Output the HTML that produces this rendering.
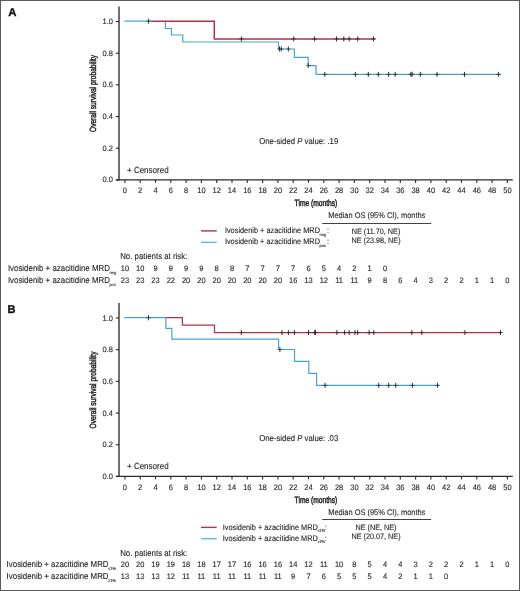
<!DOCTYPE html>
<html><head><meta charset="utf-8"><title>Kaplan-Meier overall survival</title>
<style>
html,body{margin:0;padding:0;background:#fff;}
svg{display:block;will-change:transform;font-family:"Liberation Sans", sans-serif;}
text{stroke:#1e1e1e;stroke-width:0.1px;text-rendering:geometricPrecision;}
</style></head>
<body>
<svg width="520" height="591" viewBox="0 0 520 591">
<rect x="0" y="0" width="520" height="591" fill="#fff"/>
<rect x="0.5" y="0.5" width="519" height="590" fill="none" stroke="#5a5a5a" stroke-width="1"/>
<text transform="translate(8.20 16.00)" font-size="11.4" font-weight="bold" style="stroke:#111;stroke-width:0.35px" fill="#111">A</text>
<line x1="119" y1="6.40" x2="119" y2="180.60" stroke="#2b2b2b" stroke-width="1.35"/>
<line x1="115.9" y1="179.90" x2="512.8" y2="179.90" stroke="#2b2b2b" stroke-width="1.35"/>
<line x1="124.90" y1="179.90" x2="124.90" y2="182.90" stroke="#2b2b2b" stroke-width="1.1"/>
<text transform="translate(124.90 193.30) scale(1 1.05)" font-size="7.5" text-anchor="middle" fill="#1e1e1e">0</text>
<line x1="140.20" y1="179.90" x2="140.20" y2="182.90" stroke="#2b2b2b" stroke-width="1.1"/>
<text transform="translate(140.20 193.30) scale(1 1.05)" font-size="7.5" text-anchor="middle" fill="#1e1e1e">2</text>
<line x1="155.50" y1="179.90" x2="155.50" y2="182.90" stroke="#2b2b2b" stroke-width="1.1"/>
<text transform="translate(155.50 193.30) scale(1 1.05)" font-size="7.5" text-anchor="middle" fill="#1e1e1e">4</text>
<line x1="170.80" y1="179.90" x2="170.80" y2="182.90" stroke="#2b2b2b" stroke-width="1.1"/>
<text transform="translate(170.80 193.30) scale(1 1.05)" font-size="7.5" text-anchor="middle" fill="#1e1e1e">6</text>
<line x1="186.10" y1="179.90" x2="186.10" y2="182.90" stroke="#2b2b2b" stroke-width="1.1"/>
<text transform="translate(186.10 193.30) scale(1 1.05)" font-size="7.5" text-anchor="middle" fill="#1e1e1e">8</text>
<line x1="201.40" y1="179.90" x2="201.40" y2="182.90" stroke="#2b2b2b" stroke-width="1.1"/>
<text transform="translate(201.40 193.30) scale(1 1.05)" font-size="7.5" text-anchor="middle" fill="#1e1e1e">10</text>
<line x1="216.70" y1="179.90" x2="216.70" y2="182.90" stroke="#2b2b2b" stroke-width="1.1"/>
<text transform="translate(216.70 193.30) scale(1 1.05)" font-size="7.5" text-anchor="middle" fill="#1e1e1e">12</text>
<line x1="232.00" y1="179.90" x2="232.00" y2="182.90" stroke="#2b2b2b" stroke-width="1.1"/>
<text transform="translate(232.00 193.30) scale(1 1.05)" font-size="7.5" text-anchor="middle" fill="#1e1e1e">14</text>
<line x1="247.30" y1="179.90" x2="247.30" y2="182.90" stroke="#2b2b2b" stroke-width="1.1"/>
<text transform="translate(247.30 193.30) scale(1 1.05)" font-size="7.5" text-anchor="middle" fill="#1e1e1e">16</text>
<line x1="262.60" y1="179.90" x2="262.60" y2="182.90" stroke="#2b2b2b" stroke-width="1.1"/>
<text transform="translate(262.60 193.30) scale(1 1.05)" font-size="7.5" text-anchor="middle" fill="#1e1e1e">18</text>
<line x1="277.90" y1="179.90" x2="277.90" y2="182.90" stroke="#2b2b2b" stroke-width="1.1"/>
<text transform="translate(277.90 193.30) scale(1 1.05)" font-size="7.5" text-anchor="middle" fill="#1e1e1e">20</text>
<line x1="293.20" y1="179.90" x2="293.20" y2="182.90" stroke="#2b2b2b" stroke-width="1.1"/>
<text transform="translate(293.20 193.30) scale(1 1.05)" font-size="7.5" text-anchor="middle" fill="#1e1e1e">22</text>
<line x1="308.50" y1="179.90" x2="308.50" y2="182.90" stroke="#2b2b2b" stroke-width="1.1"/>
<text transform="translate(308.50 193.30) scale(1 1.05)" font-size="7.5" text-anchor="middle" fill="#1e1e1e">24</text>
<line x1="323.80" y1="179.90" x2="323.80" y2="182.90" stroke="#2b2b2b" stroke-width="1.1"/>
<text transform="translate(323.80 193.30) scale(1 1.05)" font-size="7.5" text-anchor="middle" fill="#1e1e1e">26</text>
<line x1="339.10" y1="179.90" x2="339.10" y2="182.90" stroke="#2b2b2b" stroke-width="1.1"/>
<text transform="translate(339.10 193.30) scale(1 1.05)" font-size="7.5" text-anchor="middle" fill="#1e1e1e">28</text>
<line x1="354.40" y1="179.90" x2="354.40" y2="182.90" stroke="#2b2b2b" stroke-width="1.1"/>
<text transform="translate(354.40 193.30) scale(1 1.05)" font-size="7.5" text-anchor="middle" fill="#1e1e1e">30</text>
<line x1="369.70" y1="179.90" x2="369.70" y2="182.90" stroke="#2b2b2b" stroke-width="1.1"/>
<text transform="translate(369.70 193.30) scale(1 1.05)" font-size="7.5" text-anchor="middle" fill="#1e1e1e">32</text>
<line x1="385.00" y1="179.90" x2="385.00" y2="182.90" stroke="#2b2b2b" stroke-width="1.1"/>
<text transform="translate(385.00 193.30) scale(1 1.05)" font-size="7.5" text-anchor="middle" fill="#1e1e1e">34</text>
<line x1="400.30" y1="179.90" x2="400.30" y2="182.90" stroke="#2b2b2b" stroke-width="1.1"/>
<text transform="translate(400.30 193.30) scale(1 1.05)" font-size="7.5" text-anchor="middle" fill="#1e1e1e">36</text>
<line x1="415.60" y1="179.90" x2="415.60" y2="182.90" stroke="#2b2b2b" stroke-width="1.1"/>
<text transform="translate(415.60 193.30) scale(1 1.05)" font-size="7.5" text-anchor="middle" fill="#1e1e1e">38</text>
<line x1="430.90" y1="179.90" x2="430.90" y2="182.90" stroke="#2b2b2b" stroke-width="1.1"/>
<text transform="translate(430.90 193.30) scale(1 1.05)" font-size="7.5" text-anchor="middle" fill="#1e1e1e">40</text>
<line x1="446.20" y1="179.90" x2="446.20" y2="182.90" stroke="#2b2b2b" stroke-width="1.1"/>
<text transform="translate(446.20 193.30) scale(1 1.05)" font-size="7.5" text-anchor="middle" fill="#1e1e1e">42</text>
<line x1="461.50" y1="179.90" x2="461.50" y2="182.90" stroke="#2b2b2b" stroke-width="1.1"/>
<text transform="translate(461.50 193.30) scale(1 1.05)" font-size="7.5" text-anchor="middle" fill="#1e1e1e">44</text>
<line x1="476.80" y1="179.90" x2="476.80" y2="182.90" stroke="#2b2b2b" stroke-width="1.1"/>
<text transform="translate(476.80 193.30) scale(1 1.05)" font-size="7.5" text-anchor="middle" fill="#1e1e1e">46</text>
<line x1="492.10" y1="179.90" x2="492.10" y2="182.90" stroke="#2b2b2b" stroke-width="1.1"/>
<text transform="translate(492.10 193.30) scale(1 1.05)" font-size="7.5" text-anchor="middle" fill="#1e1e1e">48</text>
<line x1="507.40" y1="179.90" x2="507.40" y2="182.90" stroke="#2b2b2b" stroke-width="1.1"/>
<text transform="translate(507.40 193.30) scale(1 1.05)" font-size="7.5" text-anchor="middle" fill="#1e1e1e">50</text>
<line x1="115.8" y1="179.90" x2="119" y2="179.90" stroke="#2b2b2b" stroke-width="1.1"/>
<text transform="translate(113.00 182.40) scale(1 1.05)" font-size="7.5" text-anchor="end" fill="#1e1e1e">0.0</text>
<line x1="115.8" y1="148.22" x2="119" y2="148.22" stroke="#2b2b2b" stroke-width="1.1"/>
<text transform="translate(113.00 150.72) scale(1 1.05)" font-size="7.5" text-anchor="end" fill="#1e1e1e">0.2</text>
<line x1="115.8" y1="116.54" x2="119" y2="116.54" stroke="#2b2b2b" stroke-width="1.1"/>
<text transform="translate(113.00 119.04) scale(1 1.05)" font-size="7.5" text-anchor="end" fill="#1e1e1e">0.4</text>
<line x1="115.8" y1="84.86" x2="119" y2="84.86" stroke="#2b2b2b" stroke-width="1.1"/>
<text transform="translate(113.00 87.36) scale(1 1.05)" font-size="7.5" text-anchor="end" fill="#1e1e1e">0.6</text>
<line x1="115.8" y1="53.18" x2="119" y2="53.18" stroke="#2b2b2b" stroke-width="1.1"/>
<text transform="translate(113.00 55.68) scale(1 1.05)" font-size="7.5" text-anchor="end" fill="#1e1e1e">0.8</text>
<line x1="115.8" y1="21.50" x2="119" y2="21.50" stroke="#2b2b2b" stroke-width="1.1"/>
<text transform="translate(113.00 24.00) scale(1 1.05)" font-size="7.5" text-anchor="end" fill="#1e1e1e">1.0</text>
<text transform="translate(294.60 206.10)" font-size="9" textLength="42.7" lengthAdjust="spacingAndGlyphs" style="stroke-width:0.45px" fill="#1e1e1e">Time (months)</text>
<text transform="translate(95.6 132.00) rotate(-90)" font-size="9" textLength="77" lengthAdjust="spacingAndGlyphs" style="stroke-width:0.45px" fill="#1e1e1e">Overall survival probability</text>
<text transform="translate(127.00 172.80) scale(1 1.1)" font-size="8.0" fill="#1e1e1e">+ Censored</text>
<text transform="translate(259.20 144.40) scale(1 1.1)" font-size="7.77" fill="#1e1e1e">One-sided <tspan font-style="italic">P</tspan> value: .19</text>
<path d="M124.4 21.2H152M165.4 21.2V28.5H171.5V35.0H182.8V42.0H278.5V49.0H294.4V57.3H308.2V65.6H316.0V74.4H501" fill="none" stroke="#44a5d3" stroke-width="1.2"/>
<path d="M151.5 21.2H214.3V38.9H375.4" fill="none" stroke="#b3314f" stroke-width="1.5"/>
<path d="M146.10 21.20H151.10" stroke="#222" stroke-width="0.95" stroke-opacity="0.6" fill="none"/><path d="M148.60 18.65V23.75" stroke="#222" stroke-width="0.9" fill="none"/>
<path d="M238.90 38.90H243.90" stroke="#222" stroke-width="0.95" stroke-opacity="0.6" fill="none"/><path d="M241.40 36.35V41.45" stroke="#222" stroke-width="0.9" fill="none"/>
<path d="M291.20 38.90H296.20" stroke="#222" stroke-width="0.95" stroke-opacity="0.6" fill="none"/><path d="M293.70 36.35V41.45" stroke="#222" stroke-width="0.9" fill="none"/>
<path d="M312.10 38.90H317.10" stroke="#222" stroke-width="0.95" stroke-opacity="0.6" fill="none"/><path d="M314.60 36.35V41.45" stroke="#222" stroke-width="0.9" fill="none"/>
<path d="M334.00 38.90H339.00" stroke="#222" stroke-width="0.95" stroke-opacity="0.6" fill="none"/><path d="M336.50 36.35V41.45" stroke="#222" stroke-width="0.9" fill="none"/>
<path d="M341.30 38.90H346.30" stroke="#222" stroke-width="0.95" stroke-opacity="0.6" fill="none"/><path d="M343.80 36.35V41.45" stroke="#222" stroke-width="0.9" fill="none"/>
<path d="M346.70 38.90H351.70" stroke="#222" stroke-width="0.95" stroke-opacity="0.6" fill="none"/><path d="M349.20 36.35V41.45" stroke="#222" stroke-width="0.9" fill="none"/>
<path d="M355.20 38.90H360.20" stroke="#222" stroke-width="0.95" stroke-opacity="0.6" fill="none"/><path d="M357.70 36.35V41.45" stroke="#222" stroke-width="0.9" fill="none"/>
<path d="M371.00 38.90H376.00" stroke="#222" stroke-width="0.95" stroke-opacity="0.6" fill="none"/><path d="M373.50 36.35V41.45" stroke="#222" stroke-width="0.9" fill="none"/>
<path d="M277.00 49.00H282.00" stroke="#222" stroke-width="0.95" stroke-opacity="0.6" fill="none"/><path d="M279.50 46.45V51.55" stroke="#222" stroke-width="0.9" fill="none"/>
<path d="M278.80 49.00H283.80" stroke="#222" stroke-width="0.95" stroke-opacity="0.6" fill="none"/><path d="M281.30 46.45V51.55" stroke="#222" stroke-width="0.9" fill="none"/>
<path d="M285.85 49.00H290.85" stroke="#222" stroke-width="0.95" stroke-opacity="0.6" fill="none"/><path d="M288.35 46.45V51.55" stroke="#222" stroke-width="0.9" fill="none"/>
<path d="M305.70 65.60H310.70" stroke="#222" stroke-width="0.95" stroke-opacity="0.6" fill="none"/><path d="M308.20 63.05V68.15" stroke="#222" stroke-width="0.9" fill="none"/>
<path d="M322.25 74.40H327.25" stroke="#222" stroke-width="0.95" stroke-opacity="0.6" fill="none"/><path d="M324.75 71.85V76.95" stroke="#222" stroke-width="0.9" fill="none"/>
<path d="M352.90 74.40H357.90" stroke="#222" stroke-width="0.95" stroke-opacity="0.6" fill="none"/><path d="M355.40 71.85V76.95" stroke="#222" stroke-width="0.9" fill="none"/>
<path d="M365.80 74.40H370.80" stroke="#222" stroke-width="0.95" stroke-opacity="0.6" fill="none"/><path d="M368.30 71.85V76.95" stroke="#222" stroke-width="0.9" fill="none"/>
<path d="M375.80 74.40H380.80" stroke="#222" stroke-width="0.95" stroke-opacity="0.6" fill="none"/><path d="M378.30 71.85V76.95" stroke="#222" stroke-width="0.9" fill="none"/>
<path d="M386.10 74.40H391.10" stroke="#222" stroke-width="0.95" stroke-opacity="0.6" fill="none"/><path d="M388.60 71.85V76.95" stroke="#222" stroke-width="0.9" fill="none"/>
<path d="M392.70 74.40H397.70" stroke="#222" stroke-width="0.95" stroke-opacity="0.6" fill="none"/><path d="M395.20 71.85V76.95" stroke="#222" stroke-width="0.9" fill="none"/>
<path d="M408.40 74.40H413.40" stroke="#222" stroke-width="0.95" stroke-opacity="0.6" fill="none"/><path d="M410.90 71.85V76.95" stroke="#222" stroke-width="0.9" fill="none"/>
<path d="M409.60 74.40H414.60" stroke="#222" stroke-width="0.95" stroke-opacity="0.6" fill="none"/><path d="M412.10 71.85V76.95" stroke="#222" stroke-width="0.9" fill="none"/>
<path d="M417.90 74.40H422.90" stroke="#222" stroke-width="0.95" stroke-opacity="0.6" fill="none"/><path d="M420.40 71.85V76.95" stroke="#222" stroke-width="0.9" fill="none"/>
<path d="M434.50 74.40H439.50" stroke="#222" stroke-width="0.95" stroke-opacity="0.6" fill="none"/><path d="M437.00 71.85V76.95" stroke="#222" stroke-width="0.9" fill="none"/>
<path d="M462.00 74.40H467.00" stroke="#222" stroke-width="0.95" stroke-opacity="0.6" fill="none"/><path d="M464.50 71.85V76.95" stroke="#222" stroke-width="0.9" fill="none"/>
<path d="M495.90 74.40H500.90" stroke="#222" stroke-width="0.95" stroke-opacity="0.6" fill="none"/><path d="M498.40 71.85V76.95" stroke="#222" stroke-width="0.9" fill="none"/>
<line x1="201" y1="230.90" x2="216.7" y2="230.90" stroke="#b3314f" stroke-width="1.4"/>
<line x1="201" y1="242.30" x2="216.7" y2="242.30" stroke="#44a5d3" stroke-width="1.1"/>
<text transform="translate(224.90 233.40) scale(1 1.1)" font-size="7.36" fill="#1e1e1e">Ivosidenib + azacitidine MRD</text>
<text transform="translate(319.60 235.90) scale(1 1.1)" font-size="3.8" fill="#1e1e1e">neg</text>
<text transform="translate(326.90 233.40) scale(1 1.1)" font-size="7.3" fill="#1e1e1e">:</text>
<text transform="translate(224.90 244.40) scale(1 1.1)" font-size="7.36" fill="#1e1e1e">Ivosidenib + azacitidine MRD</text>
<text transform="translate(319.60 246.90) scale(1 1.1)" font-size="3.8" fill="#1e1e1e">pos</text>
<text transform="translate(326.90 244.40) scale(1 1.1)" font-size="7.3" fill="#1e1e1e">:</text>
<text transform="translate(328.20 218.40) scale(1 1.1)" font-size="7.45" fill="#1e1e1e">Median OS (95% CI), months</text>
<line x1="322.3" y1="223.50" x2="431.2" y2="223.50" stroke="#2b2b2b" stroke-width="0.9"/>
<text transform="translate(376.00 233.90) scale(1 1.1)" font-size="7.25" text-anchor="middle" fill="#1e1e1e">NE (11.70, NE)</text>
<text transform="translate(376.00 242.80) scale(1 1.1)" font-size="7.25" text-anchor="middle" fill="#1e1e1e">NE (23.98, NE)</text>
<text transform="translate(120.20 259.40) scale(1 1.1)" font-size="7.85" fill="#1e1e1e">No. patients at risk:</text>
<text transform="translate(7.90 270.90) scale(1 1.1)" font-size="7.9" fill="#1e1e1e">Ivosidenib + azacitidine MRD</text>
<text transform="translate(109.40 273.60) scale(1 1.1)" font-size="3.9" fill="#1e1e1e">neg</text>
<text transform="translate(124.90 270.90) scale(1 1.05)" font-size="7.5" text-anchor="middle" fill="#1e1e1e">10</text>
<text transform="translate(140.20 270.90) scale(1 1.05)" font-size="7.5" text-anchor="middle" fill="#1e1e1e">10</text>
<text transform="translate(155.50 270.90) scale(1 1.05)" font-size="7.5" text-anchor="middle" fill="#1e1e1e">9</text>
<text transform="translate(170.80 270.90) scale(1 1.05)" font-size="7.5" text-anchor="middle" fill="#1e1e1e">9</text>
<text transform="translate(186.10 270.90) scale(1 1.05)" font-size="7.5" text-anchor="middle" fill="#1e1e1e">9</text>
<text transform="translate(201.40 270.90) scale(1 1.05)" font-size="7.5" text-anchor="middle" fill="#1e1e1e">9</text>
<text transform="translate(216.70 270.90) scale(1 1.05)" font-size="7.5" text-anchor="middle" fill="#1e1e1e">8</text>
<text transform="translate(232.00 270.90) scale(1 1.05)" font-size="7.5" text-anchor="middle" fill="#1e1e1e">8</text>
<text transform="translate(247.30 270.90) scale(1 1.05)" font-size="7.5" text-anchor="middle" fill="#1e1e1e">7</text>
<text transform="translate(262.60 270.90) scale(1 1.05)" font-size="7.5" text-anchor="middle" fill="#1e1e1e">7</text>
<text transform="translate(277.90 270.90) scale(1 1.05)" font-size="7.5" text-anchor="middle" fill="#1e1e1e">7</text>
<text transform="translate(293.20 270.90) scale(1 1.05)" font-size="7.5" text-anchor="middle" fill="#1e1e1e">7</text>
<text transform="translate(308.50 270.90) scale(1 1.05)" font-size="7.5" text-anchor="middle" fill="#1e1e1e">6</text>
<text transform="translate(323.80 270.90) scale(1 1.05)" font-size="7.5" text-anchor="middle" fill="#1e1e1e">5</text>
<text transform="translate(339.10 270.90) scale(1 1.05)" font-size="7.5" text-anchor="middle" fill="#1e1e1e">4</text>
<text transform="translate(354.40 270.90) scale(1 1.05)" font-size="7.5" text-anchor="middle" fill="#1e1e1e">2</text>
<text transform="translate(369.70 270.90) scale(1 1.05)" font-size="7.5" text-anchor="middle" fill="#1e1e1e">1</text>
<text transform="translate(385.00 270.90) scale(1 1.05)" font-size="7.5" text-anchor="middle" fill="#1e1e1e">0</text>
<text transform="translate(7.90 282.90) scale(1 1.1)" font-size="7.9" fill="#1e1e1e">Ivosidenib + azacitidine MRD</text>
<text transform="translate(109.40 285.60) scale(1 1.1)" font-size="3.9" fill="#1e1e1e">pos</text>
<text transform="translate(124.90 282.90) scale(1 1.05)" font-size="7.5" text-anchor="middle" fill="#1e1e1e">23</text>
<text transform="translate(140.20 282.90) scale(1 1.05)" font-size="7.5" text-anchor="middle" fill="#1e1e1e">23</text>
<text transform="translate(155.50 282.90) scale(1 1.05)" font-size="7.5" text-anchor="middle" fill="#1e1e1e">23</text>
<text transform="translate(170.80 282.90) scale(1 1.05)" font-size="7.5" text-anchor="middle" fill="#1e1e1e">22</text>
<text transform="translate(186.10 282.90) scale(1 1.05)" font-size="7.5" text-anchor="middle" fill="#1e1e1e">20</text>
<text transform="translate(201.40 282.90) scale(1 1.05)" font-size="7.5" text-anchor="middle" fill="#1e1e1e">20</text>
<text transform="translate(216.70 282.90) scale(1 1.05)" font-size="7.5" text-anchor="middle" fill="#1e1e1e">20</text>
<text transform="translate(232.00 282.90) scale(1 1.05)" font-size="7.5" text-anchor="middle" fill="#1e1e1e">20</text>
<text transform="translate(247.30 282.90) scale(1 1.05)" font-size="7.5" text-anchor="middle" fill="#1e1e1e">20</text>
<text transform="translate(262.60 282.90) scale(1 1.05)" font-size="7.5" text-anchor="middle" fill="#1e1e1e">20</text>
<text transform="translate(277.90 282.90) scale(1 1.05)" font-size="7.5" text-anchor="middle" fill="#1e1e1e">20</text>
<text transform="translate(293.20 282.90) scale(1 1.05)" font-size="7.5" text-anchor="middle" fill="#1e1e1e">16</text>
<text transform="translate(308.50 282.90) scale(1 1.05)" font-size="7.5" text-anchor="middle" fill="#1e1e1e">13</text>
<text transform="translate(323.80 282.90) scale(1 1.05)" font-size="7.5" text-anchor="middle" fill="#1e1e1e">12</text>
<text transform="translate(339.10 282.90) scale(1 1.05)" font-size="7.5" text-anchor="middle" fill="#1e1e1e">11</text>
<text transform="translate(354.40 282.90) scale(1 1.05)" font-size="7.5" text-anchor="middle" fill="#1e1e1e">11</text>
<text transform="translate(369.70 282.90) scale(1 1.05)" font-size="7.5" text-anchor="middle" fill="#1e1e1e">9</text>
<text transform="translate(385.00 282.90) scale(1 1.05)" font-size="7.5" text-anchor="middle" fill="#1e1e1e">8</text>
<text transform="translate(400.30 282.90) scale(1 1.05)" font-size="7.5" text-anchor="middle" fill="#1e1e1e">6</text>
<text transform="translate(415.60 282.90) scale(1 1.05)" font-size="7.5" text-anchor="middle" fill="#1e1e1e">4</text>
<text transform="translate(430.90 282.90) scale(1 1.05)" font-size="7.5" text-anchor="middle" fill="#1e1e1e">3</text>
<text transform="translate(446.20 282.90) scale(1 1.05)" font-size="7.5" text-anchor="middle" fill="#1e1e1e">2</text>
<text transform="translate(461.50 282.90) scale(1 1.05)" font-size="7.5" text-anchor="middle" fill="#1e1e1e">2</text>
<text transform="translate(476.80 282.90) scale(1 1.05)" font-size="7.5" text-anchor="middle" fill="#1e1e1e">1</text>
<text transform="translate(492.10 282.90) scale(1 1.05)" font-size="7.5" text-anchor="middle" fill="#1e1e1e">1</text>
<text transform="translate(507.40 282.90) scale(1 1.05)" font-size="7.5" text-anchor="middle" fill="#1e1e1e">0</text>
<text transform="translate(7.50 313.25) scale(1 1.03)" font-size="11.0" font-weight="bold" style="stroke:#111;stroke-width:0.35px" fill="#111">B</text>
<line x1="119" y1="302.90" x2="119" y2="477.10" stroke="#2b2b2b" stroke-width="1.35"/>
<line x1="115.9" y1="476.40" x2="512.8" y2="476.40" stroke="#2b2b2b" stroke-width="1.35"/>
<line x1="124.90" y1="476.40" x2="124.90" y2="479.40" stroke="#2b2b2b" stroke-width="1.1"/>
<text transform="translate(124.90 489.80) scale(1 1.05)" font-size="7.5" text-anchor="middle" fill="#1e1e1e">0</text>
<line x1="140.20" y1="476.40" x2="140.20" y2="479.40" stroke="#2b2b2b" stroke-width="1.1"/>
<text transform="translate(140.20 489.80) scale(1 1.05)" font-size="7.5" text-anchor="middle" fill="#1e1e1e">2</text>
<line x1="155.50" y1="476.40" x2="155.50" y2="479.40" stroke="#2b2b2b" stroke-width="1.1"/>
<text transform="translate(155.50 489.80) scale(1 1.05)" font-size="7.5" text-anchor="middle" fill="#1e1e1e">4</text>
<line x1="170.80" y1="476.40" x2="170.80" y2="479.40" stroke="#2b2b2b" stroke-width="1.1"/>
<text transform="translate(170.80 489.80) scale(1 1.05)" font-size="7.5" text-anchor="middle" fill="#1e1e1e">6</text>
<line x1="186.10" y1="476.40" x2="186.10" y2="479.40" stroke="#2b2b2b" stroke-width="1.1"/>
<text transform="translate(186.10 489.80) scale(1 1.05)" font-size="7.5" text-anchor="middle" fill="#1e1e1e">8</text>
<line x1="201.40" y1="476.40" x2="201.40" y2="479.40" stroke="#2b2b2b" stroke-width="1.1"/>
<text transform="translate(201.40 489.80) scale(1 1.05)" font-size="7.5" text-anchor="middle" fill="#1e1e1e">10</text>
<line x1="216.70" y1="476.40" x2="216.70" y2="479.40" stroke="#2b2b2b" stroke-width="1.1"/>
<text transform="translate(216.70 489.80) scale(1 1.05)" font-size="7.5" text-anchor="middle" fill="#1e1e1e">12</text>
<line x1="232.00" y1="476.40" x2="232.00" y2="479.40" stroke="#2b2b2b" stroke-width="1.1"/>
<text transform="translate(232.00 489.80) scale(1 1.05)" font-size="7.5" text-anchor="middle" fill="#1e1e1e">14</text>
<line x1="247.30" y1="476.40" x2="247.30" y2="479.40" stroke="#2b2b2b" stroke-width="1.1"/>
<text transform="translate(247.30 489.80) scale(1 1.05)" font-size="7.5" text-anchor="middle" fill="#1e1e1e">16</text>
<line x1="262.60" y1="476.40" x2="262.60" y2="479.40" stroke="#2b2b2b" stroke-width="1.1"/>
<text transform="translate(262.60 489.80) scale(1 1.05)" font-size="7.5" text-anchor="middle" fill="#1e1e1e">18</text>
<line x1="277.90" y1="476.40" x2="277.90" y2="479.40" stroke="#2b2b2b" stroke-width="1.1"/>
<text transform="translate(277.90 489.80) scale(1 1.05)" font-size="7.5" text-anchor="middle" fill="#1e1e1e">20</text>
<line x1="293.20" y1="476.40" x2="293.20" y2="479.40" stroke="#2b2b2b" stroke-width="1.1"/>
<text transform="translate(293.20 489.80) scale(1 1.05)" font-size="7.5" text-anchor="middle" fill="#1e1e1e">22</text>
<line x1="308.50" y1="476.40" x2="308.50" y2="479.40" stroke="#2b2b2b" stroke-width="1.1"/>
<text transform="translate(308.50 489.80) scale(1 1.05)" font-size="7.5" text-anchor="middle" fill="#1e1e1e">24</text>
<line x1="323.80" y1="476.40" x2="323.80" y2="479.40" stroke="#2b2b2b" stroke-width="1.1"/>
<text transform="translate(323.80 489.80) scale(1 1.05)" font-size="7.5" text-anchor="middle" fill="#1e1e1e">26</text>
<line x1="339.10" y1="476.40" x2="339.10" y2="479.40" stroke="#2b2b2b" stroke-width="1.1"/>
<text transform="translate(339.10 489.80) scale(1 1.05)" font-size="7.5" text-anchor="middle" fill="#1e1e1e">28</text>
<line x1="354.40" y1="476.40" x2="354.40" y2="479.40" stroke="#2b2b2b" stroke-width="1.1"/>
<text transform="translate(354.40 489.80) scale(1 1.05)" font-size="7.5" text-anchor="middle" fill="#1e1e1e">30</text>
<line x1="369.70" y1="476.40" x2="369.70" y2="479.40" stroke="#2b2b2b" stroke-width="1.1"/>
<text transform="translate(369.70 489.80) scale(1 1.05)" font-size="7.5" text-anchor="middle" fill="#1e1e1e">32</text>
<line x1="385.00" y1="476.40" x2="385.00" y2="479.40" stroke="#2b2b2b" stroke-width="1.1"/>
<text transform="translate(385.00 489.80) scale(1 1.05)" font-size="7.5" text-anchor="middle" fill="#1e1e1e">34</text>
<line x1="400.30" y1="476.40" x2="400.30" y2="479.40" stroke="#2b2b2b" stroke-width="1.1"/>
<text transform="translate(400.30 489.80) scale(1 1.05)" font-size="7.5" text-anchor="middle" fill="#1e1e1e">36</text>
<line x1="415.60" y1="476.40" x2="415.60" y2="479.40" stroke="#2b2b2b" stroke-width="1.1"/>
<text transform="translate(415.60 489.80) scale(1 1.05)" font-size="7.5" text-anchor="middle" fill="#1e1e1e">38</text>
<line x1="430.90" y1="476.40" x2="430.90" y2="479.40" stroke="#2b2b2b" stroke-width="1.1"/>
<text transform="translate(430.90 489.80) scale(1 1.05)" font-size="7.5" text-anchor="middle" fill="#1e1e1e">40</text>
<line x1="446.20" y1="476.40" x2="446.20" y2="479.40" stroke="#2b2b2b" stroke-width="1.1"/>
<text transform="translate(446.20 489.80) scale(1 1.05)" font-size="7.5" text-anchor="middle" fill="#1e1e1e">42</text>
<line x1="461.50" y1="476.40" x2="461.50" y2="479.40" stroke="#2b2b2b" stroke-width="1.1"/>
<text transform="translate(461.50 489.80) scale(1 1.05)" font-size="7.5" text-anchor="middle" fill="#1e1e1e">44</text>
<line x1="476.80" y1="476.40" x2="476.80" y2="479.40" stroke="#2b2b2b" stroke-width="1.1"/>
<text transform="translate(476.80 489.80) scale(1 1.05)" font-size="7.5" text-anchor="middle" fill="#1e1e1e">46</text>
<line x1="492.10" y1="476.40" x2="492.10" y2="479.40" stroke="#2b2b2b" stroke-width="1.1"/>
<text transform="translate(492.10 489.80) scale(1 1.05)" font-size="7.5" text-anchor="middle" fill="#1e1e1e">48</text>
<line x1="507.40" y1="476.40" x2="507.40" y2="479.40" stroke="#2b2b2b" stroke-width="1.1"/>
<text transform="translate(507.40 489.80) scale(1 1.05)" font-size="7.5" text-anchor="middle" fill="#1e1e1e">50</text>
<line x1="115.8" y1="476.40" x2="119" y2="476.40" stroke="#2b2b2b" stroke-width="1.1"/>
<text transform="translate(113.00 478.90) scale(1 1.05)" font-size="7.5" text-anchor="end" fill="#1e1e1e">0.0</text>
<line x1="115.8" y1="444.72" x2="119" y2="444.72" stroke="#2b2b2b" stroke-width="1.1"/>
<text transform="translate(113.00 447.22) scale(1 1.05)" font-size="7.5" text-anchor="end" fill="#1e1e1e">0.2</text>
<line x1="115.8" y1="413.04" x2="119" y2="413.04" stroke="#2b2b2b" stroke-width="1.1"/>
<text transform="translate(113.00 415.54) scale(1 1.05)" font-size="7.5" text-anchor="end" fill="#1e1e1e">0.4</text>
<line x1="115.8" y1="381.36" x2="119" y2="381.36" stroke="#2b2b2b" stroke-width="1.1"/>
<text transform="translate(113.00 383.86) scale(1 1.05)" font-size="7.5" text-anchor="end" fill="#1e1e1e">0.6</text>
<line x1="115.8" y1="349.68" x2="119" y2="349.68" stroke="#2b2b2b" stroke-width="1.1"/>
<text transform="translate(113.00 352.18) scale(1 1.05)" font-size="7.5" text-anchor="end" fill="#1e1e1e">0.8</text>
<line x1="115.8" y1="318.00" x2="119" y2="318.00" stroke="#2b2b2b" stroke-width="1.1"/>
<text transform="translate(113.00 320.50) scale(1 1.05)" font-size="7.5" text-anchor="end" fill="#1e1e1e">1.0</text>
<text transform="translate(294.60 502.60)" font-size="9" textLength="42.7" lengthAdjust="spacingAndGlyphs" style="stroke-width:0.45px" fill="#1e1e1e">Time (months)</text>
<text transform="translate(95.6 428.50) rotate(-90)" font-size="9" textLength="77" lengthAdjust="spacingAndGlyphs" style="stroke-width:0.45px" fill="#1e1e1e">Overall survival probability</text>
<text transform="translate(127.00 469.30) scale(1 1.1)" font-size="8.0" fill="#1e1e1e">+ Censored</text>
<text transform="translate(259.20 440.90) scale(1 1.1)" font-size="7.77" fill="#1e1e1e">One-sided <tspan font-style="italic">P</tspan> value: .03</text>
<path d="M124.2 317.7H165.9V328.3H171.8V339.1H278.6V349.5H294.5V361.3H308.8V373.4H316.6V385.4H439.4" fill="none" stroke="#44a5d3" stroke-width="1.2"/>
<path d="M165.9 317.7H182.4V325.2H214.5V332.5H501.8" fill="none" stroke="#b3314f" stroke-width="1.25"/>
<path d="M146.00 317.70H151.00" stroke="#222" stroke-width="0.95" stroke-opacity="0.6" fill="none"/><path d="M148.50 315.15V320.25" stroke="#222" stroke-width="0.9" fill="none"/>
<path d="M238.80 332.50H243.80" stroke="#222" stroke-width="0.95" stroke-opacity="0.6" fill="none"/><path d="M241.30 329.95V335.05" stroke="#222" stroke-width="0.9" fill="none"/>
<path d="M279.50 332.50H284.50" stroke="#222" stroke-width="0.95" stroke-opacity="0.6" fill="none"/><path d="M282.00 329.95V335.05" stroke="#222" stroke-width="0.9" fill="none"/>
<path d="M285.90 332.50H290.90" stroke="#222" stroke-width="0.95" stroke-opacity="0.6" fill="none"/><path d="M288.40 329.95V335.05" stroke="#222" stroke-width="0.9" fill="none"/>
<path d="M291.90 332.50H296.90" stroke="#222" stroke-width="0.95" stroke-opacity="0.6" fill="none"/><path d="M294.40 329.95V335.05" stroke="#222" stroke-width="0.9" fill="none"/>
<path d="M306.00 332.50H311.00" stroke="#222" stroke-width="0.95" stroke-opacity="0.6" fill="none"/><path d="M308.50 329.95V335.05" stroke="#222" stroke-width="0.9" fill="none"/>
<path d="M312.20 332.50H317.20" stroke="#222" stroke-width="0.95" stroke-opacity="0.6" fill="none"/><path d="M314.70 329.95V335.05" stroke="#222" stroke-width="0.9" fill="none"/>
<path d="M313.00 332.50H318.00" stroke="#222" stroke-width="0.95" stroke-opacity="0.6" fill="none"/><path d="M315.50 329.95V335.05" stroke="#222" stroke-width="0.9" fill="none"/>
<path d="M334.40 332.50H339.40" stroke="#222" stroke-width="0.95" stroke-opacity="0.6" fill="none"/><path d="M336.90 329.95V335.05" stroke="#222" stroke-width="0.9" fill="none"/>
<path d="M342.10 332.50H347.10" stroke="#222" stroke-width="0.95" stroke-opacity="0.6" fill="none"/><path d="M344.60 329.95V335.05" stroke="#222" stroke-width="0.9" fill="none"/>
<path d="M346.70 332.50H351.70" stroke="#222" stroke-width="0.95" stroke-opacity="0.6" fill="none"/><path d="M349.20 329.95V335.05" stroke="#222" stroke-width="0.9" fill="none"/>
<path d="M352.50 332.50H357.50" stroke="#222" stroke-width="0.95" stroke-opacity="0.6" fill="none"/><path d="M355.00 329.95V335.05" stroke="#222" stroke-width="0.9" fill="none"/>
<path d="M355.20 332.50H360.20" stroke="#222" stroke-width="0.95" stroke-opacity="0.6" fill="none"/><path d="M357.70 329.95V335.05" stroke="#222" stroke-width="0.9" fill="none"/>
<path d="M366.70 332.50H371.70" stroke="#222" stroke-width="0.95" stroke-opacity="0.6" fill="none"/><path d="M369.20 329.95V335.05" stroke="#222" stroke-width="0.9" fill="none"/>
<path d="M371.30 332.50H376.30" stroke="#222" stroke-width="0.95" stroke-opacity="0.6" fill="none"/><path d="M373.80 329.95V335.05" stroke="#222" stroke-width="0.9" fill="none"/>
<path d="M409.30 332.50H414.30" stroke="#222" stroke-width="0.95" stroke-opacity="0.6" fill="none"/><path d="M411.80 329.95V335.05" stroke="#222" stroke-width="0.9" fill="none"/>
<path d="M419.30 332.50H424.30" stroke="#222" stroke-width="0.95" stroke-opacity="0.6" fill="none"/><path d="M421.80 329.95V335.05" stroke="#222" stroke-width="0.9" fill="none"/>
<path d="M462.40 332.50H467.40" stroke="#222" stroke-width="0.95" stroke-opacity="0.6" fill="none"/><path d="M464.90 329.95V335.05" stroke="#222" stroke-width="0.9" fill="none"/>
<path d="M498.00 332.50H503.00" stroke="#222" stroke-width="0.95" stroke-opacity="0.6" fill="none"/><path d="M500.50 329.95V335.05" stroke="#222" stroke-width="0.9" fill="none"/>
<path d="M277.40 349.50H282.40" stroke="#222" stroke-width="0.95" stroke-opacity="0.6" fill="none"/><path d="M279.90 346.95V352.05" stroke="#222" stroke-width="0.9" fill="none"/>
<path d="M322.60 385.40H327.60" stroke="#222" stroke-width="0.95" stroke-opacity="0.6" fill="none"/><path d="M325.10 382.85V387.95" stroke="#222" stroke-width="0.9" fill="none"/>
<path d="M376.20 385.40H381.20" stroke="#222" stroke-width="0.95" stroke-opacity="0.6" fill="none"/><path d="M378.70 382.85V387.95" stroke="#222" stroke-width="0.9" fill="none"/>
<path d="M386.20 385.40H391.20" stroke="#222" stroke-width="0.95" stroke-opacity="0.6" fill="none"/><path d="M388.70 382.85V387.95" stroke="#222" stroke-width="0.9" fill="none"/>
<path d="M393.20 385.40H398.20" stroke="#222" stroke-width="0.95" stroke-opacity="0.6" fill="none"/><path d="M395.70 382.85V387.95" stroke="#222" stroke-width="0.9" fill="none"/>
<path d="M409.90 385.40H414.90" stroke="#222" stroke-width="0.95" stroke-opacity="0.6" fill="none"/><path d="M412.40 382.85V387.95" stroke="#222" stroke-width="0.9" fill="none"/>
<path d="M435.00 385.40H440.00" stroke="#222" stroke-width="0.95" stroke-opacity="0.6" fill="none"/><path d="M437.50 382.85V387.95" stroke="#222" stroke-width="0.9" fill="none"/>
<line x1="201" y1="527.40" x2="216.7" y2="527.40" stroke="#b3314f" stroke-width="1.4"/>
<line x1="201" y1="538.80" x2="216.7" y2="538.80" stroke="#44a5d3" stroke-width="1.1"/>
<text transform="translate(222.70 529.90) scale(1 1.1)" font-size="7.36" fill="#1e1e1e">Ivosidenib + azacitidine MRD</text>
<text transform="translate(317.40 532.40) scale(1 1.1)" font-size="3.8" fill="#1e1e1e">&lt;1%</text>
<text transform="translate(324.70 529.90) scale(1 1.1)" font-size="7.3" fill="#1e1e1e">:</text>
<text transform="translate(222.70 540.90) scale(1 1.1)" font-size="7.36" fill="#1e1e1e">Ivosidenib + azacitidine MRD</text>
<text transform="translate(317.40 543.40) scale(1 1.1)" font-size="3.8" fill="#1e1e1e">≥1%</text>
<text transform="translate(324.70 540.90) scale(1 1.1)" font-size="7.3" fill="#1e1e1e">:</text>
<text transform="translate(328.20 514.90) scale(1 1.1)" font-size="7.45" fill="#1e1e1e">Median OS (95% CI), months</text>
<line x1="322.3" y1="519.50" x2="431.2" y2="519.50" stroke="#2b2b2b" stroke-width="0.9"/>
<text transform="translate(376.00 530.40) scale(1 1.1)" font-size="7.25" text-anchor="middle" fill="#1e1e1e">NE (NE, NE)</text>
<text transform="translate(376.00 539.30) scale(1 1.1)" font-size="7.25" text-anchor="middle" fill="#1e1e1e">NE (20.07, NE)</text>
<text transform="translate(120.20 555.90) scale(1 1.1)" font-size="7.85" fill="#1e1e1e">No. patients at risk:</text>
<text transform="translate(6.60 567.40) scale(1 1.1)" font-size="7.9" fill="#1e1e1e">Ivosidenib + azacitidine MRD</text>
<text transform="translate(108.10 570.10) scale(1 1.1)" font-size="3.9" fill="#1e1e1e">&lt;1%</text>
<text transform="translate(124.90 567.40) scale(1 1.05)" font-size="7.5" text-anchor="middle" fill="#1e1e1e">20</text>
<text transform="translate(140.20 567.40) scale(1 1.05)" font-size="7.5" text-anchor="middle" fill="#1e1e1e">20</text>
<text transform="translate(155.50 567.40) scale(1 1.05)" font-size="7.5" text-anchor="middle" fill="#1e1e1e">19</text>
<text transform="translate(170.80 567.40) scale(1 1.05)" font-size="7.5" text-anchor="middle" fill="#1e1e1e">19</text>
<text transform="translate(186.10 567.40) scale(1 1.05)" font-size="7.5" text-anchor="middle" fill="#1e1e1e">18</text>
<text transform="translate(201.40 567.40) scale(1 1.05)" font-size="7.5" text-anchor="middle" fill="#1e1e1e">18</text>
<text transform="translate(216.70 567.40) scale(1 1.05)" font-size="7.5" text-anchor="middle" fill="#1e1e1e">17</text>
<text transform="translate(232.00 567.40) scale(1 1.05)" font-size="7.5" text-anchor="middle" fill="#1e1e1e">17</text>
<text transform="translate(247.30 567.40) scale(1 1.05)" font-size="7.5" text-anchor="middle" fill="#1e1e1e">16</text>
<text transform="translate(262.60 567.40) scale(1 1.05)" font-size="7.5" text-anchor="middle" fill="#1e1e1e">16</text>
<text transform="translate(277.90 567.40) scale(1 1.05)" font-size="7.5" text-anchor="middle" fill="#1e1e1e">16</text>
<text transform="translate(293.20 567.40) scale(1 1.05)" font-size="7.5" text-anchor="middle" fill="#1e1e1e">14</text>
<text transform="translate(308.50 567.40) scale(1 1.05)" font-size="7.5" text-anchor="middle" fill="#1e1e1e">12</text>
<text transform="translate(323.80 567.40) scale(1 1.05)" font-size="7.5" text-anchor="middle" fill="#1e1e1e">11</text>
<text transform="translate(339.10 567.40) scale(1 1.05)" font-size="7.5" text-anchor="middle" fill="#1e1e1e">10</text>
<text transform="translate(354.40 567.40) scale(1 1.05)" font-size="7.5" text-anchor="middle" fill="#1e1e1e">8</text>
<text transform="translate(369.70 567.40) scale(1 1.05)" font-size="7.5" text-anchor="middle" fill="#1e1e1e">5</text>
<text transform="translate(385.00 567.40) scale(1 1.05)" font-size="7.5" text-anchor="middle" fill="#1e1e1e">4</text>
<text transform="translate(400.30 567.40) scale(1 1.05)" font-size="7.5" text-anchor="middle" fill="#1e1e1e">4</text>
<text transform="translate(415.60 567.40) scale(1 1.05)" font-size="7.5" text-anchor="middle" fill="#1e1e1e">3</text>
<text transform="translate(430.90 567.40) scale(1 1.05)" font-size="7.5" text-anchor="middle" fill="#1e1e1e">2</text>
<text transform="translate(446.20 567.40) scale(1 1.05)" font-size="7.5" text-anchor="middle" fill="#1e1e1e">2</text>
<text transform="translate(461.50 567.40) scale(1 1.05)" font-size="7.5" text-anchor="middle" fill="#1e1e1e">2</text>
<text transform="translate(476.80 567.40) scale(1 1.05)" font-size="7.5" text-anchor="middle" fill="#1e1e1e">1</text>
<text transform="translate(492.10 567.40) scale(1 1.05)" font-size="7.5" text-anchor="middle" fill="#1e1e1e">1</text>
<text transform="translate(507.40 567.40) scale(1 1.05)" font-size="7.5" text-anchor="middle" fill="#1e1e1e">0</text>
<text transform="translate(6.60 579.40) scale(1 1.1)" font-size="7.9" fill="#1e1e1e">Ivosidenib + azacitidine MRD</text>
<text transform="translate(108.10 582.10) scale(1 1.1)" font-size="3.9" fill="#1e1e1e">≥1%</text>
<text transform="translate(124.90 579.40) scale(1 1.05)" font-size="7.5" text-anchor="middle" fill="#1e1e1e">13</text>
<text transform="translate(140.20 579.40) scale(1 1.05)" font-size="7.5" text-anchor="middle" fill="#1e1e1e">13</text>
<text transform="translate(155.50 579.40) scale(1 1.05)" font-size="7.5" text-anchor="middle" fill="#1e1e1e">13</text>
<text transform="translate(170.80 579.40) scale(1 1.05)" font-size="7.5" text-anchor="middle" fill="#1e1e1e">12</text>
<text transform="translate(186.10 579.40) scale(1 1.05)" font-size="7.5" text-anchor="middle" fill="#1e1e1e">11</text>
<text transform="translate(201.40 579.40) scale(1 1.05)" font-size="7.5" text-anchor="middle" fill="#1e1e1e">11</text>
<text transform="translate(216.70 579.40) scale(1 1.05)" font-size="7.5" text-anchor="middle" fill="#1e1e1e">11</text>
<text transform="translate(232.00 579.40) scale(1 1.05)" font-size="7.5" text-anchor="middle" fill="#1e1e1e">11</text>
<text transform="translate(247.30 579.40) scale(1 1.05)" font-size="7.5" text-anchor="middle" fill="#1e1e1e">11</text>
<text transform="translate(262.60 579.40) scale(1 1.05)" font-size="7.5" text-anchor="middle" fill="#1e1e1e">11</text>
<text transform="translate(277.90 579.40) scale(1 1.05)" font-size="7.5" text-anchor="middle" fill="#1e1e1e">11</text>
<text transform="translate(293.20 579.40) scale(1 1.05)" font-size="7.5" text-anchor="middle" fill="#1e1e1e">9</text>
<text transform="translate(308.50 579.40) scale(1 1.05)" font-size="7.5" text-anchor="middle" fill="#1e1e1e">7</text>
<text transform="translate(323.80 579.40) scale(1 1.05)" font-size="7.5" text-anchor="middle" fill="#1e1e1e">6</text>
<text transform="translate(339.10 579.40) scale(1 1.05)" font-size="7.5" text-anchor="middle" fill="#1e1e1e">5</text>
<text transform="translate(354.40 579.40) scale(1 1.05)" font-size="7.5" text-anchor="middle" fill="#1e1e1e">5</text>
<text transform="translate(369.70 579.40) scale(1 1.05)" font-size="7.5" text-anchor="middle" fill="#1e1e1e">5</text>
<text transform="translate(385.00 579.40) scale(1 1.05)" font-size="7.5" text-anchor="middle" fill="#1e1e1e">4</text>
<text transform="translate(400.30 579.40) scale(1 1.05)" font-size="7.5" text-anchor="middle" fill="#1e1e1e">2</text>
<text transform="translate(415.60 579.40) scale(1 1.05)" font-size="7.5" text-anchor="middle" fill="#1e1e1e">1</text>
<text transform="translate(430.90 579.40) scale(1 1.05)" font-size="7.5" text-anchor="middle" fill="#1e1e1e">1</text>
<text transform="translate(446.20 579.40) scale(1 1.05)" font-size="7.5" text-anchor="middle" fill="#1e1e1e">0</text>
</svg>
</body></html>
